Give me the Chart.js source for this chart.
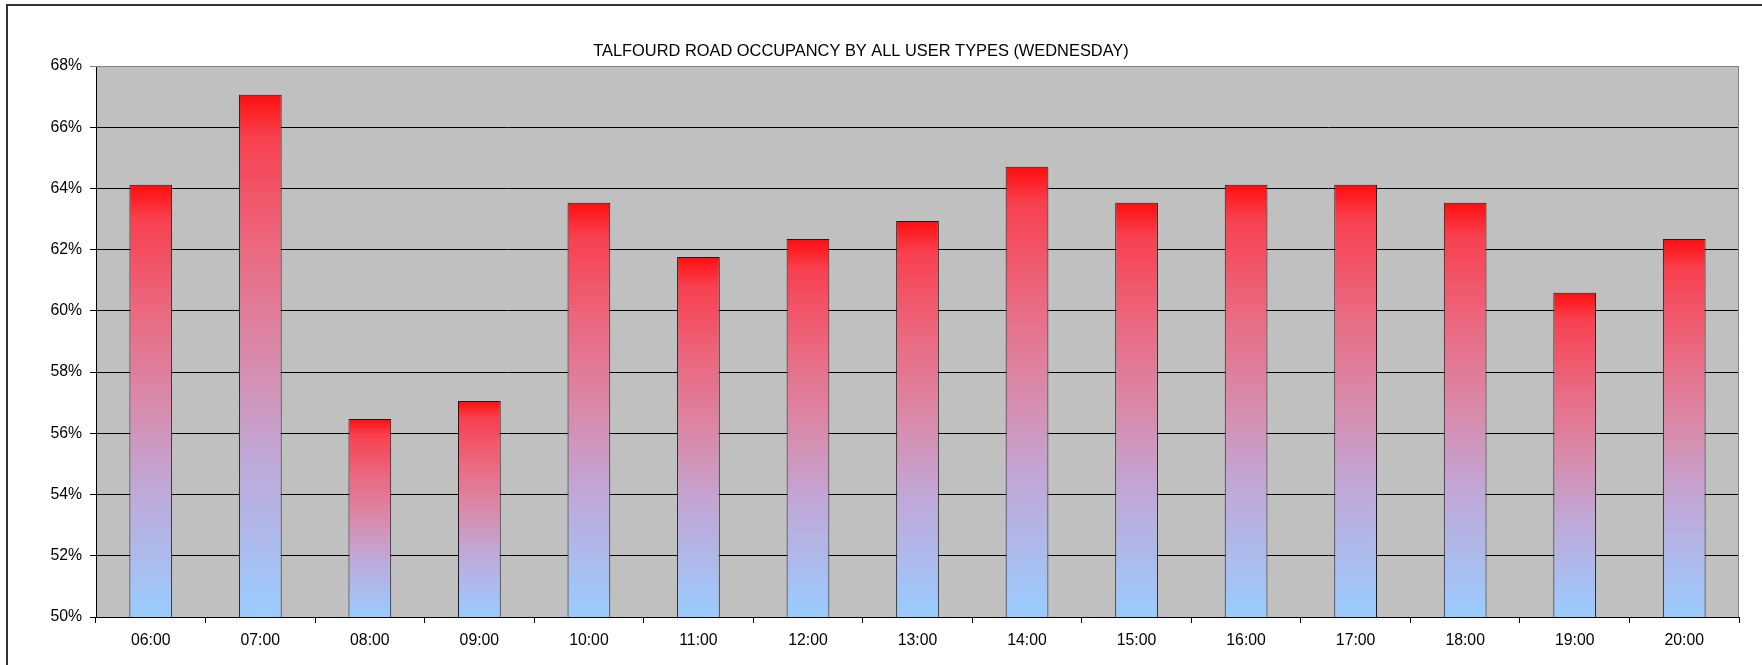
<!DOCTYPE html>
<html>
<head>
<meta charset="utf-8">
<script src="https://cdn.jsdelivr.net/npm/chart.js@4/dist/chart.umd.min.js"></script>
<style>
  html, body { margin: 0; padding: 0; background: #fff; }
  #wrap { position: relative; width: 1762px; height: 665px; }
</style>
</head>
<body>
<div id="wrap"><canvas id="occChart" width="1762" height="665"></canvas></div>
<script>
const chartTitle = 'TALFOURD ROAD OCCUPANCY BY ALL USER TYPES (WEDNESDAY)';
const hours = ['06:00', '07:00', '08:00', '09:00', '10:00', '11:00', '12:00', '13:00', '14:00', '15:00', '16:00', '17:00', '18:00', '19:00', '20:00'];
const occupancy = [64.12, 67.06, 56.47, 57.06, 63.53, 61.76, 62.35, 62.94, 64.71, 63.53, 64.12, 64.12, 63.53, 60.59, 62.35];
const yMin = 50;
const yMax = 68;
const yStep = 2;

// red at the top of each bar fading to light blue at its base
const gradientStops = [
  [0, '#ff0e0e'],
  [0.08, '#f8404f'],
  [0.3, '#ea6a82'],
  [0.5, '#d98aaa'],
  [0.7, '#c0a8d8'],
  [0.87, '#abbcee'],
  [1, '#99ccff']
];

const barFill = (context) => {
  const chart = context.chart;
  const scales = chart.scales;
  if (!chart.chartArea || context.type !== 'data' || !scales.y) return '#99ccff';
  const top = scales.y.getPixelForValue(context.raw);
  const bottom = scales.y.getPixelForValue(yMin);
  const g = chart.ctx.createLinearGradient(0, top, 0, bottom);
  gradientStops.forEach(([pos, col]) => g.addColorStop(pos, col));
  return g;
};

const plotBackground = {
  id: 'plotBackground',
  beforeDraw(chart) {
    const { ctx, chartArea } = chart;
    ctx.save();
    // outer frame (only top and left edges are visible in the picture)
    ctx.strokeStyle = '#333';
    ctx.lineWidth = 2;
    ctx.beginPath();
    ctx.moveTo(7, chart.height);
    ctx.lineTo(7, 5);
    ctx.lineTo(chart.width, 5);
    ctx.stroke();
    ctx.fillStyle = '#c0c0c0';
    ctx.fillRect(chartArea.left, chartArea.top, chartArea.right - chartArea.left, chartArea.bottom - chartArea.top);
    ctx.restore();
  },
  afterDatasetsDraw(chart) {
    const { ctx, chartArea } = chart;
    ctx.save();
    ctx.strokeStyle = '#808080';
    ctx.lineWidth = 1;
    ctx.beginPath();
    ctx.moveTo(chartArea.left, chartArea.top + 0.5);
    ctx.lineTo(chartArea.right - 0.5, chartArea.top + 0.5);
    ctx.lineTo(chartArea.right - 0.5, chartArea.bottom);
    ctx.stroke();
    ctx.restore();
  },
  afterDraw(chart) {
    const { ctx } = chart;
    ctx.save();
    ctx.fillStyle = '#000';
    ctx.font = '16.4px "Liberation Sans", Arial, sans-serif';
    ctx.textAlign = 'center';
    ctx.textBaseline = 'alphabetic';
    ctx.fillText(chartTitle, 861, 56);
    ctx.restore();
  }
};

const tickFont = { family: '"Liberation Sans", Arial, sans-serif', size: 15.8 };

window.onload = () => {
  const ctx = document.getElementById('occChart').getContext('2d');
  new Chart(ctx, {
    type: 'bar',
    data: {
      labels: hours,
      datasets: [{
        data: occupancy,
        backgroundColor: barFill,
        borderColor: '#1a1a1a',
        borderWidth: 1,
        barPercentage: 0.39,
        categoryPercentage: 1
      }]
    },
    options: {
      responsive: false,
      animation: false,
      layout: { padding: { left: 0, right: 23, top: 66, bottom: 0 } },
      plugins: {
        legend: { display: false },
        title: { display: false },
        tooltip: { enabled: false }
      },
      scales: {
        x: {
          offset: true,
          grid: {
            offset: true,
            drawOnChartArea: false,
            color: '#000',
            tickLength: 6
          },
          border: { color: '#000', width: 1 },
          ticks: { color: '#000', font: tickFont, padding: 8, maxRotation: 0 },
          afterFit: (scale) => { scale.height = 48; }
        },
        y: {
          min: yMin,
          max: yMax,
          grid: {
            color: (c) => (c.tick && c.tick.value === yMax ? '#808080' : '#000'),
            tickLength: 6
          },
          border: { color: '#000', width: 1 },
          ticks: {
            stepSize: yStep,
            color: '#000',
            font: tickFont,
            padding: 8,
            callback: (v) => v + '%'
          },
          afterFit: (scale) => { scale.width = 96; }
        }
      }
    },
    plugins: [plotBackground]
  });
};
</script>
</body>
</html>
